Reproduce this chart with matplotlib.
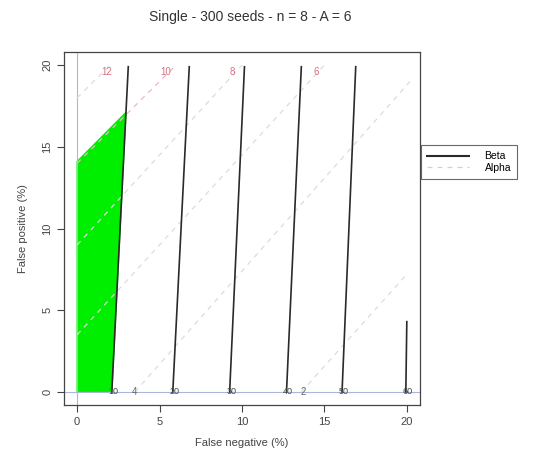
import numpy as np
import matplotlib
matplotlib.use("Agg")
import matplotlib.pyplot as plt

plt.rcParams['font.family'] = ['Liberation Sans', 'DejaVu Sans']

# beta lines: x at bottom (y=0) and at top end, plus top y
beta_x0 = [2.1, 5.8, 9.25, 12.7, 16.07, 19.94]
beta_x1 = [3.1, 6.8, 10.15, 13.6, 16.9, 20.0]
beta_y1 = [19.9, 19.9, 19.9, 19.9, 19.9, 4.3]
beta_labels = ["10", "20", "30", "40", "50", "60"]

# alpha lines: start and end points
alpha_x0 = [0.0, 0.0, 0.0, 0.0, 3.5, 13.6]
alpha_y0 = [18.0, 14.0, 9.0, 3.5, 0.0, 0.0]
alpha_x1 = [2.0, 6.0, 10.0, 15.0, 20.2, 20.0]
alpha_y1 = [20.0, 20.0, 20.0, 20.0, 19.0, 7.2]
alpha_labels = ["12", "10", "8", "6", "4", "2"]
alpha_lab_x = [1.8, 5.4, 9.4, 14.5, 3.5, 13.7]
alpha_lab_y = [19.6, 19.6, 19.6, 19.6, 0.0, 0.0]

# green feasible region
green_x = [0.0, 0.0, 2.96, 2.1]
green_y = [0.0, 14.1, 17.1, 0.0]

fig = plt.figure(figsize=(5.33, 4.67), dpi=100)
ax = fig.add_axes([64/533, 1-405/467, (420-64)/533, (405-52)/467])

ax.fill(green_x, green_y, color='#00ee00', zorder=1)
ax.axvline(0, color='#a8b8d8', lw=0.8, zorder=2)
ax.axhline(0, color='#a8b8d8', lw=0.8, zorder=2)

for i in range(len(alpha_labels)):
    c = '#ecb8c4' if alpha_labels[i] == "10" else '#dcdcdc'
    ax.plot([alpha_x0[i], alpha_x1[i]], [alpha_y0[i], alpha_y1[i]],
            color=c, lw=0.9, ls=(0, (4, 4)), zorder=3)
    tc = '#d87080' if alpha_lab_y[i] > 10 else '#666666'
    ax.text(alpha_lab_x[i], alpha_lab_y[i], alpha_labels[i], color=tc,
            fontsize=7, ha='center', va='center', zorder=5)

for i in range(len(beta_labels)):
    ax.plot([beta_x0[i], beta_x1[i]], [0, beta_y1[i]], color='#2a2a2a',
            lw=1.2, zorder=4)
    ax.text(beta_x0[i] + 0.1, 0, beta_labels[i], color='#444444',
            fontsize=6.5, ha='center', va='center', zorder=5)

ax.set_xlim(-0.8, 20.8)
ax.set_ylim(-0.8, 20.8)
ax.set_xticks([0, 5, 10, 15, 20])
ax.set_yticks([0, 5, 10, 15, 20])
ax.tick_params(direction='out', length=5, labelsize=8, colors='#444444')
plt.setp(ax.get_yticklabels(), rotation=90, va='center')
for s in ax.spines.values():
    s.set_color('#444444')
    s.set_linewidth(0.9)

ax.set_xlabel("False negative (%)", fontsize=8, color='#444444', labelpad=8)
ax.set_ylabel("False positive (%)", fontsize=8, color='#444444', labelpad=10)
fig.text(250/533, 1-17/467, "Single - 300 seeds - n = 8 - A = 6",
         ha='center', va='center', fontsize=10, color='#333333')

h1, = ax.plot([], [], color='#2a2a2a', lw=1.5)
h2, = ax.plot([], [], color='#d0d0d0', lw=0.9, ls=(0, (4, 4)))
leg = fig.legend([h1, h2], ["Beta", "Alpha"], loc='upper left',
                 bbox_to_anchor=(421/533, 1-145/467), fontsize=7.5,
                 frameon=True, fancybox=False, handlelength=4.0,
                 handletextpad=1.5, borderpad=0.6, labelspacing=0.15,
                 borderaxespad=0)
leg.get_frame().set_edgecolor('#444444')
leg.get_frame().set_linewidth(0.8)

fig.savefig("out.png", dpi=100)
